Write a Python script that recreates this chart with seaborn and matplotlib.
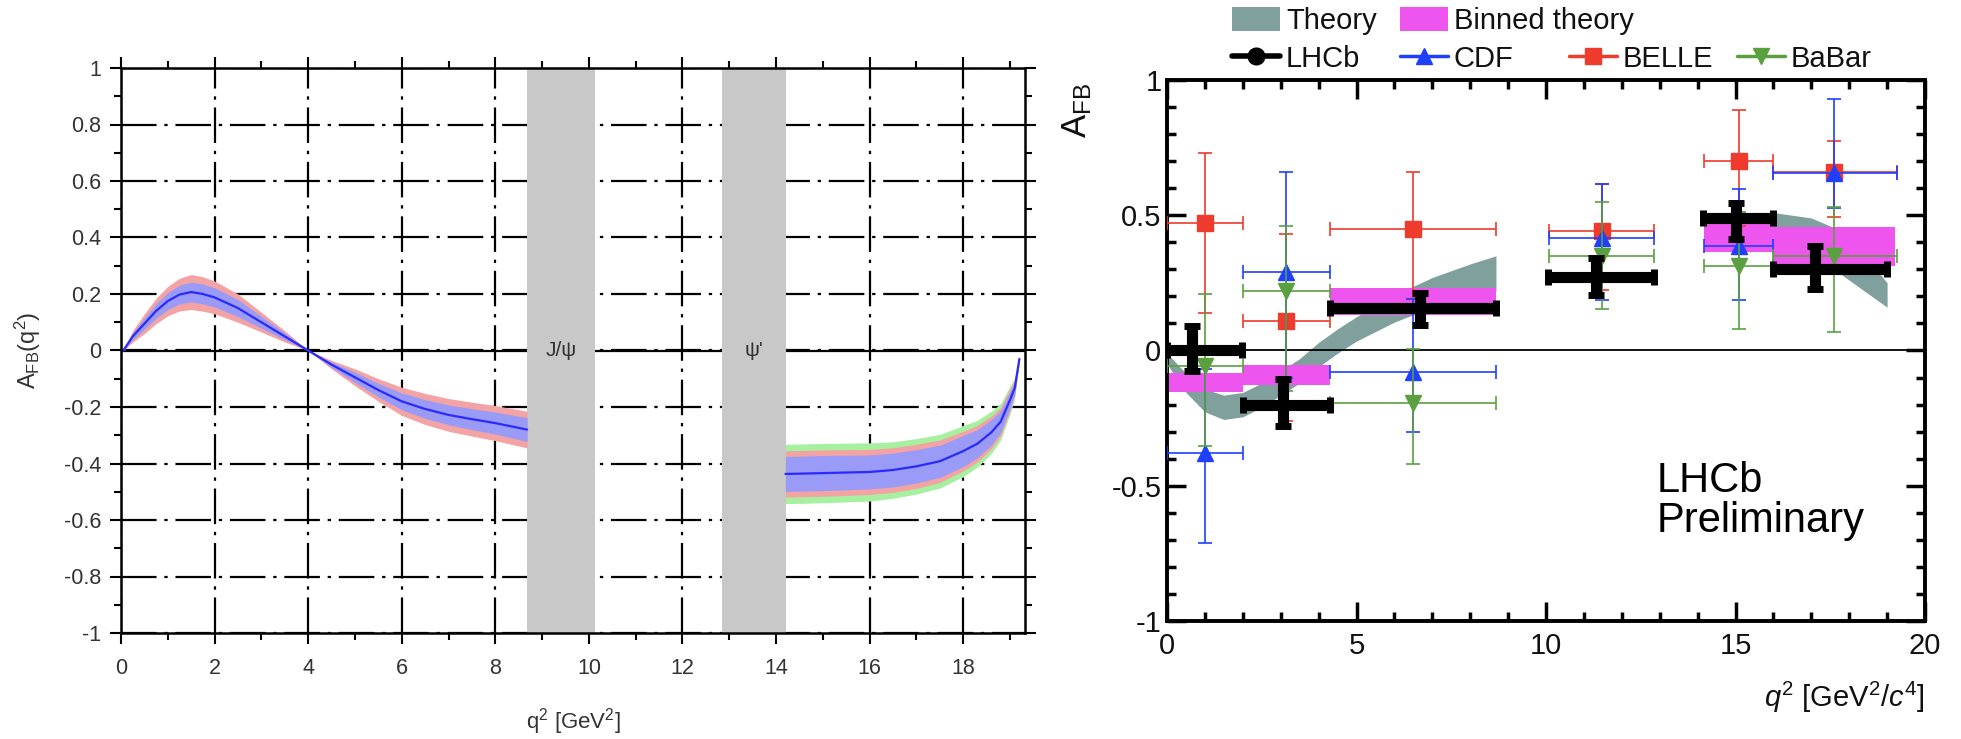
import numpy as np
import pandas as pd
import seaborn as sns
import matplotlib.pyplot as plt
from matplotlib.ticker import MultipleLocator, FuncFormatter
from matplotlib.patches import Patch
from matplotlib.lines import Line2D

# ---- left panel : SM prediction of A_FB(q^2) ----
q2_low = [0.05, 0.25, 0.5, 0.75, 1.0, 1.25, 1.5, 1.75, 2.0, 2.5, 3.0, 3.5, 4.0,
          4.5, 5.0, 5.5, 6.0, 6.5, 7.0, 7.5, 8.0, 8.68]
afb_low = [0.0, 0.05, 0.095, 0.14, 0.175, 0.198, 0.207, 0.2, 0.188, 0.15, 0.1, 0.05, 0.0,
           -0.05, -0.095, -0.14, -0.18, -0.207, -0.228, -0.243, -0.257, -0.28]
hw_red_low = [0.0, 0.02, 0.035, 0.045, 0.052, 0.058, 0.062, 0.061, 0.058, 0.05, 0.035, 0.02, 0.0,
              0.015, 0.03, 0.04, 0.05, 0.055, 0.058, 0.06, 0.062, 0.065]
hw_blue_low = [0.0, 0.012, 0.02, 0.026, 0.03, 0.033, 0.035, 0.035, 0.034, 0.03, 0.021, 0.012, 0.0,
               0.009, 0.018, 0.024, 0.03, 0.033, 0.035, 0.037, 0.039, 0.042]

q2_high = [14.2, 14.5, 15.0, 15.5, 16.0, 16.5, 17.0, 17.5, 18.0, 18.3, 18.6, 18.8, 19.0, 19.1, 19.2]
afb_high = [-0.437, -0.436, -0.434, -0.432, -0.43, -0.423, -0.41, -0.392, -0.356, -0.33, -0.29,
            -0.252, -0.175, -0.133, -0.03]
hw_green_high = [0.105, 0.105, 0.105, 0.104, 0.103, 0.1, 0.098, 0.095, 0.09, 0.083, 0.075, 0.065,
                 0.05, 0.035, 0.01]
hw_red_high = [0.082, 0.082, 0.082, 0.081, 0.08, 0.079, 0.078, 0.075, 0.07, 0.065, 0.058, 0.05,
               0.04, 0.028, 0.008]
hw_blue_high = [0.062, 0.062, 0.062, 0.061, 0.06, 0.06, 0.059, 0.057, 0.055, 0.05, 0.045, 0.038,
                0.03, 0.02, 0.005]

resonances = [(8.68, 10.13, "J/\u03c8"), (12.84, 14.21, "\u03c8'")]

# ---- right panel : measurements ----
theory_q2_a = [0.0, 0.5, 1.0, 1.5, 2.0, 2.5, 3.0, 3.5, 4.0, 4.5, 5.0, 6.0, 7.0, 8.0, 8.68]
theory_lo_a = [-0.05, -0.155, -0.227, -0.255, -0.245, -0.21, -0.165, -0.12, -0.06, -0.01, 0.035,
               0.105, 0.16, 0.2, 0.22]
theory_hi_a = [-0.01, -0.085, -0.143, -0.165, -0.155, -0.12, -0.075, -0.03, 0.03, 0.08, 0.125,
               0.205, 0.27, 0.32, 0.35]
theory_q2_b = [14.18, 15.0, 16.0, 17.0, 17.5, 18.0, 18.5, 19.0]
theory_lo_b = [0.39, 0.41, 0.41, 0.36, 0.31, 0.26, 0.21, 0.16]
theory_hi_b = [0.47, 0.50, 0.51, 0.49, 0.46, 0.41, 0.34, 0.25]

binned_lo = [0.0, 2.0, 4.3, 14.18, 16.0]
binned_hi = [2.0, 4.3, 8.68, 16.0, 19.2]
binned_bottom = [-0.154, -0.126, 0.133, 0.364, 0.312]
binned_top = [-0.083, -0.052, 0.232, 0.475, 0.457]

bin_lo = [0.0, 2.0, 4.3, 10.09, 14.18, 16.0]
bin_hi = [2.0, 4.3, 8.68, 12.86, 16.0, 19.25]
bin_mid = [1.0, 3.15, 6.49, 11.47, 15.09, 17.6]

lhcb_x = [0.65, 3.07, 6.68, 11.32, 15.01, 17.1]
lhcb_xlo = [0.0, 2.0, 4.3, 10.06, 14.15, 16.0]
lhcb_xhi = [1.98, 4.3, 8.68, 12.86, 16.0, 19.0]
lhcb_y = [0.0, -0.2, 0.158, 0.27, 0.49, 0.3]
lhcb_elo = [0.077, 0.08, 0.062, 0.063, 0.079, 0.074]
lhcb_ehi = [0.09, 0.093, 0.056, 0.073, 0.057, 0.086]

belle_y = [0.47, 0.11, 0.45, 0.44, 0.70, 0.66]
belle_elo = [0.33, 0.37, 0.26, 0.215, 0.24, 0.165]
belle_ehi = [0.26, 0.32, 0.21, 0.175, 0.19, 0.115]

cdf_y = [-0.38, 0.29, -0.08, 0.417, 0.386, 0.658]
cdf_elo = [0.33, 0.39, 0.22, 0.23, 0.2, 0.13]
cdf_ehi = [0.31, 0.37, 0.27, 0.2, 0.21, 0.27]

babar_y = [-0.058, 0.22, -0.194, 0.35, 0.312, 0.349]
babar_elo = [0.294, 0.37, 0.226, 0.195, 0.234, 0.28]
babar_ehi = [0.268, 0.24, 0.2, 0.2, 0.2, 0.183]

# colours
c_red_band, c_blue_band, c_green_band = "#f3a3a3", "#9a9af7", "#a6f0a0"
c_teal, c_magenta = "#7fa09d", "#ee55ee"
c_belle, c_cdf, c_babar = "#ee3b2e", "#1f3fff", "#5aa040"

sns.set_style("ticks")
plt.rcParams["font.family"] = ["Liberation Sans", "DejaVu Sans"]
plt.rcParams["mathtext.fontset"] = "custom"
plt.rcParams["mathtext.rm"] = "Liberation Sans"
plt.rcParams["mathtext.it"] = "Liberation Sans:italic"
plt.rcParams["mathtext.bf"] = "Liberation Sans:bold"

W, H = 1961, 739
fig = plt.figure(figsize=(W / 100, H / 100), dpi=100)
ax1 = fig.add_axes([121 / W, 1 - 633 / H, (1025 - 121) / W, (633 - 68) / H])
ax2 = fig.add_axes([1167 / W, 1 - 621 / H, (1925 - 1167) / W, (621 - 80) / H])


def tick_fmt(v, pos):
    v = round(v, 6)
    return "0" if v == 0 else f"{v:g}"


fmt = FuncFormatter(tick_fmt)

# ================= left panel =================
ax1.set_xlim(0, 19.32)
ax1.set_ylim(-1, 1)
ax1.xaxis.set_major_locator(MultipleLocator(2))
ax1.xaxis.set_minor_locator(MultipleLocator(1))
ax1.yaxis.set_major_locator(MultipleLocator(0.2))
ax1.yaxis.set_minor_locator(MultipleLocator(0.1))
ax1.xaxis.set_major_formatter(fmt)
ax1.yaxis.set_major_formatter(fmt)
ax1.set_axisbelow(True)
ax1.grid(which="major", color="black", lw=1.6, linestyle=(0, (16, 3.5, 1.5, 3.5)))
ax1.axhline(0, color="black", lw=1.6, zorder=0.6)
for lo, hi, lab in resonances:
    ax1.axvspan(lo, hi, color="#c8c8c8", lw=0, zorder=1.5)
    ax1.text((lo + hi) / 2, 0, lab, ha="center", va="center", fontsize=15, color="#333333", zorder=3)

a_low = np.array(afb_low)
ax1.fill_between(q2_low, a_low - np.array(hw_red_low), a_low + np.array(hw_red_low),
                 color=c_red_band, lw=0, zorder=2)
ax1.fill_between(q2_low, a_low - np.array(hw_blue_low), a_low + np.array(hw_blue_low),
                 color=c_blue_band, lw=0, zorder=2.1)
a_high = np.array(afb_high)
for hw, col, z in [(hw_green_high, c_green_band, 2), (hw_red_high, c_red_band, 2.05),
                   (hw_blue_high, c_blue_band, 2.1)]:
    ax1.fill_between(q2_high, a_high - np.array(hw), a_high + np.array(hw), color=col, lw=0, zorder=z)

low_df = pd.DataFrame({"q2": q2_low, "afb": afb_low})
high_df = pd.DataFrame({"q2": q2_high, "afb": afb_high})
sns.lineplot(data=low_df, x="q2", y="afb", ax=ax1, color="#2a2aff", lw=1.6, zorder=2.5)
sns.lineplot(data=high_df, x="q2", y="afb", ax=ax1, color="#2a2aff", lw=1.6, zorder=2.5)
ax1.set_xlabel("")
ax1.set_ylabel("")

for s in ax1.spines.values():
    s.set_linewidth(1.8)
    s.set_color("black")
    s.set_visible(True)
ax1.tick_params(which="both", direction="out", top=True, right=True, width=1.5, colors="black",
                labelcolor="#333333", labelsize=15.5)
ax1.tick_params(which="major", length=8)
ax1.tick_params(which="minor", length=5)
ax1.tick_params(axis="x", which="major", pad=10)
ax1.tick_params(axis="y", which="major", pad=6)

fig.text(28 / W, 1 - 350 / H, r"A$_{\rm FB}$(q$^2$)", rotation=90, ha="center", va="center",
         fontsize=17, color="#333333")
fig.text(573 / W, 1 - 722 / H, r"q$^2$ [GeV$^2$]", ha="center", va="center", fontsize=16,
         color="#333333")

# ================= right panel =================
ax2.set_xlim(0, 20)
ax2.set_ylim(-1, 1)
ax2.xaxis.set_major_locator(MultipleLocator(5))
ax2.xaxis.set_minor_locator(MultipleLocator(1))
ax2.yaxis.set_major_locator(MultipleLocator(0.5))
ax2.yaxis.set_minor_locator(MultipleLocator(0.1))
ax2.xaxis.set_major_formatter(fmt)
ax2.yaxis.set_major_formatter(fmt)

ax2.fill_between(theory_q2_a, theory_lo_a, theory_hi_a, color=c_teal, lw=0, zorder=1)
ax2.fill_between(theory_q2_b, theory_lo_b, theory_hi_b, color=c_teal, lw=0, zorder=1)
ax2.axhline(0, color="black", lw=1.3, zorder=1.5)
ax2.bar(binned_lo, np.subtract(binned_top, binned_bottom), width=np.subtract(binned_hi, binned_lo),
        bottom=binned_bottom, align="edge", color=c_magenta, lw=0, zorder=2)

mid = np.array(bin_mid)
for yv, elo, ehi, col, mk, z in [(belle_y, belle_elo, belle_ehi, c_belle, "s", 3),
                                 (cdf_y, cdf_elo, cdf_ehi, c_cdf, "^", 3.1),
                                 (babar_y, babar_elo, babar_ehi, c_babar, "v", 3.2)]:
    ax2.errorbar(mid, yv, xerr=[mid - np.array(bin_lo), np.array(bin_hi) - mid], yerr=[elo, ehi],
                 fmt=mk, color=col, ms=11, elinewidth=1.2, capsize=5, capthick=1.2, zorder=z)

lx = np.array(lhcb_x)
ax2.errorbar(lx, lhcb_y, xerr=[lx - np.array(lhcb_xlo), np.array(lhcb_xhi) - lx],
             yerr=[lhcb_elo, lhcb_ehi], fmt="o", color="black", ms=10, elinewidth=8,
             capsize=6, capthick=5, zorder=4)

ax2.text(12.93, -0.41, "LHCb\nPreliminary", ha="left", va="top", fontsize=30,
         linespacing=1.0, color="black")

for s in ax2.spines.values():
    s.set_linewidth(2.8)
    s.set_color("black")
    s.set_visible(True)
ax2.tick_params(which="both", direction="in", top=True, right=True, width=2.5, colors="black",
                labelcolor="#111111", labelsize=21)
ax2.tick_params(which="major", length=14)
ax2.tick_params(which="minor", length=6.5)
ax2.tick_params(axis="x", which="major", pad=8)
ax2.tick_params(axis="y", which="major", pad=4)

fig.text(1925 / W, 1 - 697 / H, r"$q^2$ [GeV$^2$/$c^4$]", ha="right", va="center", fontsize=21,
         color="#111111")
fig.text(1077 / W, 1 - 110 / H, r"A$_{\rm FB}$", rotation=90, ha="center", va="center",
         fontsize=25, color="#111111")

# legend : one entry per slot, ROOT-like fixed columns
legend_items = [
    ("Theory", Patch(facecolor=c_teal, lw=0), 1232, 21),
    ("Binned theory", Patch(facecolor=c_magenta, lw=0), 1400, 21),
    ("LHCb", Line2D([], [], color="black", marker="o", lw=4, ms=12), 1232, 59),
    ("CDF", Line2D([], [], color=c_cdf, marker="^", lw=2.5, ms=11), 1400, 59),
    ("BELLE", Line2D([], [], color=c_belle, marker="s", lw=2.5, ms=11), 1569, 59),
    ("BaBar", Line2D([], [], color=c_babar, marker="v", lw=2.5, ms=11), 1737, 59),
]
for lab, h, px, py in legend_items:
    fig.legend(handles=[h], labels=[lab], loc="center left", bbox_to_anchor=(px / W, 1 - py / H),
               frameon=False, fontsize=21, handlelength=1.65, handleheight=0.86,
               handletextpad=0.2, borderpad=0, borderaxespad=0, labelcolor="#111111")

fig.savefig("out.png", dpi=100)
